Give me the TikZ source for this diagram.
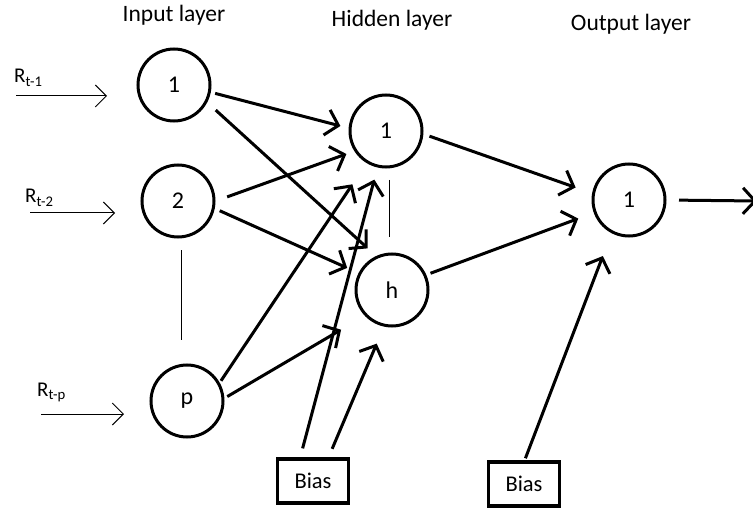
\documentclass[tikz,border=0pt]{standalone}
\usepackage{fontspec}
\setmainfont{Carlito}
\usetikzlibrary{arrows.meta}
\begin{document}
\begin{tikzpicture}[x=1pt,y=-1pt,
  neuron/.style={draw,circle,line width=3pt,minimum size=72pt,inner sep=0pt,outer sep=0pt,
    font=\fontsize{24}{28}\selectfont},
  biasbox/.style={draw,rectangle,line width=3.2pt,minimum width=71pt,minimum height=44pt,
    inner sep=0pt,outer sep=0pt,font=\fontsize{22.5}{26}\selectfont},
  title/.style={anchor=base,font=\fontsize{23.5}{28}\selectfont},
  inlabel/.style={anchor=base west,inner sep=0pt,font=\fontsize{21}{24}\selectfont},
  weight/.style={line width=3pt,-{Straight Barb[length=12pt,width=26pt,line width=3pt]}},
  feed/.style={line width=1pt,-{Straight Barb[length=11pt,width=22pt,line width=1pt]}},
  link/.style={line width=1pt}]
\useasboundingbox (0,0) rectangle (753,508);

% layer titles
\node[title] (tin)  at (174,22) {Input layer};
\node[title] (thid) at (392,27) {Hidden layer};
\node[title] (tout) at (631,31) {Output layer};

% input layer
\node[neuron] (i1) at (174,85)  {1};
\node[neuron] (i2) at (178,201) {2};
\node[neuron] (ip) at (187,401) {p};
\draw[link] (181,250) coordinate (d1) -- (181,340) coordinate (d2);

% hidden layer
\node[neuron] (h1) at (386,131) {1};
\node[neuron] (hh) at (392,290) {h};
\draw[link] (389,180) coordinate (d3) -- (389,237) coordinate (d4);

% output layer
\node[neuron] (o1) at (629,200) {1};

% bias units
\node[biasbox] (b1) at (313,481) {Bias};
\node[biasbox] (b2) at (524,484) {Bias};

% lagged inputs
\coordinate (r1s) at (16,96);  \coordinate (r1e) at (107,96);
\coordinate (r2s) at (30,213); \coordinate (r2e) at (115,213);
\coordinate (rps) at (41,414); \coordinate (rpe) at (124,414);
\draw[feed] (r1s) -- (r1e);
\draw[feed] (r2s) -- (r2e);
\draw[feed] (rps) -- (rpe);
\node[inlabel] (l1) at (14,83)  {R\textsubscript{t-1}};
\node[inlabel] (l2) at (25,203) {R\textsubscript{t-2}};
\node[inlabel] (lp) at (37,396) {R\textsubscript{t-p}};

% input -> hidden
\draw[weight,shorten <=6pt,shorten >=10pt] (i1.-11) -- (h1.176);
\draw[weight,shorten <=13pt,shorten >=13pt] (i1.-27) -- (hh.114);
\draw[weight,shorten <=14pt,shorten >=10pt] (i2.-1) -- (h1.-147);
\draw[weight,shorten <=7pt,shorten >=14pt] (i2.-11) -- (hh.153);
\draw[weight,shorten <=4pt,shorten >=27pt] (ip.28) -- (h1.-121);
\draw[weight,shorten <=5pt,shorten >=29pt] (ip.3) -- (hh.-136);

% bias -> hidden
\draw[weight,shorten <=11pt,shorten >=14pt] (b1.121) -- (h1.-103);
\draw[weight,shorten <=11pt,shorten >=20pt] (b1.56) -- (hh.-102);

% hidden -> output
\draw[weight,shorten <=8pt,shorten >=19pt] (h1.-4) -- (o1.170);
\draw[weight,shorten <=6pt,shorten >=18pt] (hh.24) -- (o1.-160);

% bias -> output
\draw[weight,shorten <=4pt,shorten >=26pt] (b2.north) -- (o1.-118);

% network output
\coordinate (yout) at (757,201);
\draw[weight,shorten <=14pt] (o1.east) -- (yout);
\end{tikzpicture}
\end{document}
